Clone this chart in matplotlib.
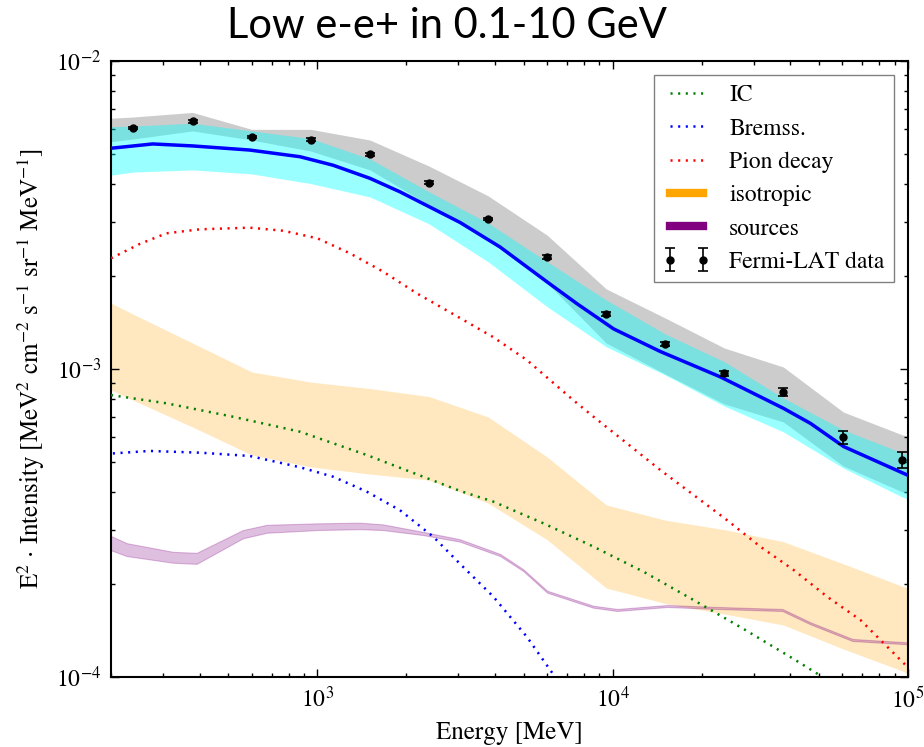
import matplotlib

matplotlib.use("Agg")
import matplotlib.pyplot as plt
from matplotlib.lines import Line2D

plt.rcParams["font.family"] = "STIXGeneral"
plt.rcParams["mathtext.fontset"] = "stix"
plt.rcParams["lines.scale_dashes"] = False

# Fermi-LAT data points [MeV], [MeV^2 cm^-2 s^-1 sr^-1 MeV^-1]
data_energy = [237, 378, 600, 950, 1507, 2388, 3785, 6000, 9510, 15070, 23880, 37850, 60400, 95700]
data_flux = [6.06e-3, 6.37e-3, 5.67e-3, 5.55e-3, 4.98e-3, 4.03e-3, 3.07e-3, 2.31e-3,
             1.51e-3, 1.21e-3, 9.68e-4, 8.44e-4, 6.00e-4, 5.07e-4]
data_err = [6e-5, 6e-5, 5.5e-5, 5.5e-5, 5e-5, 4e-5, 3e-5, 2.8e-5,
            2.3e-5, 1.8e-5, 1.9e-5, 2.5e-5, 2.7e-5, 2.9e-5]

# bands (data systematics, model spread, isotropic)
band_energy = [200, 237, 378, 600, 950, 1507, 2388, 3785, 6000, 9510, 15070, 23880, 37850, 60400,
               95700, 100000]
data_band_hi = [6.52e-3, 6.58e-3, 6.81e-3, 6.00e-3, 6.00e-3, 5.54e-3, 4.56e-3, 3.65e-3, 2.72e-3,
                1.82e-3, 1.464e-3, 1.170e-3, 1.015e-3, 7.25e-4, 6.11e-4, 6.06e-4]
data_band_lo = [5.47e-3, 5.58e-3, 5.93e-3, 5.54e-3, 5.10e-3, 4.43e-3, 3.41e-3, 2.62e-3, 1.90e-3,
                1.214e-3, 9.63e-4, 7.70e-4, 6.73e-4, 4.84e-4, 3.99e-4, 3.93e-4]
model_band_hi = [6.12e-3, 6.15e-3, 6.28e-3, 5.93e-3, 5.60e-3, 4.81e-3, 3.76e-3, 2.98e-3, 2.23e-3,
                 1.675e-3, 1.299e-3, 1.056e-3, 8.05e-4, 6.34e-4, 5.34e-4, 5.26e-4]
model_band_lo = [4.26e-3, 4.36e-3, 4.43e-3, 4.30e-3, 4.00e-3, 3.62e-3, 2.96e-3, 2.23e-3, 1.593e-3,
                 1.181e-3, 9.56e-4, 7.58e-4, 6.25e-4, 4.77e-4, 3.84e-4, 3.78e-4]
iso_hi = [1.638e-3, 1.509e-3, 1.214e-3, 9.78e-4, 9.07e-4, 8.64e-4, 8.14e-4, 6.99e-4, 5.18e-4,
          3.62e-4, 3.23e-4, 3.01e-4, 2.75e-4, 2.33e-4, 1.97e-4, 1.94e-4]
iso_lo = [8.55e-4, 7.93e-4, 6.48e-4, 5.26e-4, 4.81e-4, 4.56e-4, 4.36e-4, 3.67e-4, 2.79e-4,
          1.945e-4, 1.732e-4, 1.602e-4, 1.475e-4, 1.233e-4, 1.046e-4, 1.022e-4]

# total model
total_energy = [200, 277, 379, 590, 873, 1129, 1507, 1905, 3043, 4154, 5986, 7565, 10070, 14490,
                23140, 37900, 46740, 60550, 99300]
total_flux = [5.21e-3, 5.38e-3, 5.30e-3, 5.14e-3, 4.89e-3, 4.59e-3, 4.16e-3, 3.76e-3, 2.99e-3,
              2.49e-3, 1.92e-3, 1.63e-3, 1.35e-3, 1.14e-3, 9.43e-4, 7.45e-4, 6.66e-4, 5.60e-4, 4.53e-4]

# components
pion_energy = [200, 250, 308, 400, 590, 766, 1000, 1289, 1671, 2169, 3041, 3935, 5119, 7346, 8610,
               11170, 14490, 18790, 24390, 31620, 41020, 53220, 69020, 99400]
pion_flux = [2.288e-3, 2.546e-3, 2.758e-3, 2.842e-3, 2.877e-3, 2.812e-3, 2.657e-3, 2.375e-3,
             2.070e-3, 1.762e-3, 1.464e-3, 1.270e-3, 1.070e-3, 7.93e-4, 7.00e-4, 5.74e-4, 4.70e-4,
             3.90e-4, 3.23e-4, 2.65e-4, 2.225e-4, 1.823e-4, 1.531e-4, 1.080e-4]
ic_energy = [200, 308, 518, 872, 1468, 3041, 3944, 5828, 8610, 12720, 18790, 27760, 41020, 51200]
ic_flux = [8.23e-4, 7.74e-4, 7.00e-4, 6.26e-4, 5.26e-4, 4.02e-4, 3.71e-4, 3.155e-4, 2.65e-4,
           2.197e-4, 1.778e-4, 1.432e-4, 1.144e-4, 1.002e-4]
brems_energy = [203, 270, 400, 590, 872, 1131, 1468, 1904, 2469, 3041, 3944, 5119, 6383]
brems_flux = [5.32e-4, 5.42e-4, 5.35e-4, 5.22e-4, 4.80e-4, 4.47e-4, 4.00e-4, 3.48e-4, 2.854e-4,
              2.33e-4, 1.823e-4, 1.351e-4, 1.0e-4]
src_energy = [200, 226, 324, 390, 559, 674, 1000, 1393, 1667, 2279, 3041, 4156, 4973, 6000, 8590,
              10360, 15300, 21410, 37550, 46720, 64840, 99500]
src_hi = [2.87e-4, 2.72e-4, 2.55e-4, 2.53e-4, 3.00e-4, 3.12e-4, 3.155e-4, 3.17e-4, 3.13e-4,
          2.96e-4, 2.80e-4, 2.51e-4, 2.24e-4, 1.906e-4, 1.704e-4, 1.663e-4, 1.713e-4, 1.691e-4,
          1.663e-4, 1.505e-4, 1.329e-4, 1.296e-4]
src_lo = [2.58e-4, 2.47e-4, 2.35e-4, 2.33e-4, 2.82e-4, 2.94e-4, 3.00e-4, 3.02e-4, 3.00e-4,
          2.89e-4, 2.75e-4, 2.47e-4, 2.21e-4, 1.878e-4, 1.679e-4, 1.638e-4, 1.688e-4, 1.666e-4,
          1.638e-4, 1.483e-4, 1.309e-4, 1.277e-4]

dotted = (0, (1.5, 4))

fig = plt.figure(figsize=(9.24, 7.47), dpi=100)
ax = fig.add_axes([0.1201, 0.0937, 0.8626, 0.8246])

# bands
ax.fill_between(band_energy, data_band_lo, data_band_hi, color="black", alpha=0.2, lw=0, zorder=1)
ax.fill_between(band_energy, model_band_lo, model_band_hi, color="aqua", alpha=0.4, lw=0, zorder=2)
ax.fill_between(band_energy, iso_lo, iso_hi, color="orange", alpha=0.25, lw=0, zorder=1)
ax.fill_between(src_energy, src_lo, src_hi, color="purple", alpha=0.25, lw=0.8, zorder=2)

# components
ic_line, = ax.plot(ic_energy, ic_flux, color="green", ls=dotted, lw=1.8, label="IC", zorder=3)
br_line, = ax.plot(brems_energy, brems_flux, color="blue", ls=dotted, lw=1.8, label="Bremss.", zorder=3)
pi_line, = ax.plot(pion_energy, pion_flux, color="red", ls=dotted, lw=1.8, label="Pion decay", zorder=3)
ax.plot(total_energy, total_flux, color="blue", lw=2.5, zorder=4)

data_handle = ax.errorbar(data_energy, data_flux, yerr=data_err, fmt="o", color="black", ms=5,
                          capsize=3.5, elinewidth=1.2, capthick=1.2, zorder=5,
                          label="Fermi-LAT data")

ax.set_xscale("log")
ax.set_yscale("log")
ax.set_xlim(200, 1e5)
ax.set_ylim(1e-4, 1e-2)

ax.tick_params(which="both", direction="in", top=True, right=True, labelsize=17)
ax.tick_params(which="major", length=6, width=1, pad=7)
ax.tick_params(which="minor", length=3, width=1)
for spine in ax.spines.values():
    spine.set_linewidth(1.5)

ax.set_xlabel("Energy [MeV]", fontsize=18)
ax.set_ylabel(r"E$^2$ $\cdot$ Intensity [MeV$^2$ cm$^{-2}$ s$^{-1}$ sr$^{-1}$ MeV$^{-1}$]", fontsize=18)
ax.xaxis.set_label_coords(0.5, -0.072)
ax.yaxis.set_label_coords(-0.080, 0.5)

iso_handle = Line2D([], [], color="orange", lw=6, label="isotropic")
src_handle = Line2D([], [], color="purple", lw=6, label="sources")
ax.legend(handles=[ic_line, br_line, pi_line, iso_handle, src_handle, data_handle],
          loc="upper right", numpoints=2, fontsize=17, fancybox=False, edgecolor="0.5",
          framealpha=1, handlelength=2, borderaxespad=0.6)

fig.text(0.484, 0.949, "Low e-e+ in 0.1-10 GeV", family="Lato", fontsize=30, ha="center",
         va="baseline")

fig.savefig("out.png", dpi=100)
